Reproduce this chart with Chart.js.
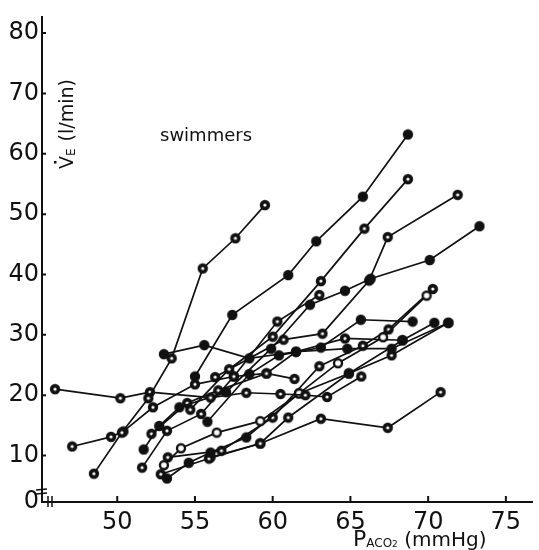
<!DOCTYPE html>
<html>
<head>
<meta charset="utf-8">
<script src="https://cdn.jsdelivr.net/npm/chart.js@4.4.1/dist/chart.umd.min.js"></script>
<style>
  html, body { margin: 0; padding: 0; background: #fff; }
  #wrap { position: absolute; left: 0; top: 0; width: 539px; height: 550px; }
</style>
</head>
<body>
<div id="wrap"><canvas id="vent"></canvas></div>
<script>
// Axis ticks (mmHg on x, l/min on y)
const xTicks = [50, 55, 60, 65, 70, 75];
const yTicks = [10, 20, 30, 40, 50, 60, 70, 80];
const xMin = 45.16, xMax = 76.7;
const yMin = 2.3, yMax = 82.6;

// One response line per swimmer: [PACO2, VE] pairs
const sw01 = [[48.5, 7], [50.3, 13.8], [52.0, 19.5], [53.5, 26.1], [55.5, 41], [57.6, 46], [59.5, 51.5]];
const sw02 = [[46, 21], [50.2, 19.5], [52.1, 20.5], [56, 19.6], [58.3, 20.4], [60.5, 20.2], [62.1, 20], [63.5, 19.7], [65.7, 23.1]];
const sw03 = [[55, 23.1], [57.4, 33.3], [61, 39.9], [62.8, 45.5], [65.8, 52.9], [68.7, 63.2]];
const sw04 = [[54.7, 17.6], [57.2, 24.3], [60, 29.7], [63.1, 38.9], [65.9, 47.6], [68.7, 55.8]];
const sw05 = [[47.1, 11.5], [49.6, 13.1], [50.4, 14], [52.3, 18], [55, 21.8], [57.5, 23.1], [59.6, 23.6], [61.4, 22.7]];
const sw06 = [[53, 26.8], [55.6, 28.3], [58.5, 26.1], [61.5, 27.2], [64.8, 27.7], [67.65, 27.7], [71.3, 32]];
const sw07 = [[51.6, 8], [53.2, 14.1], [55.4, 16.9], [57.5, 23.1], [60.3, 32.2], [63, 36.6]];
const sw08 = [[51.7, 11], [52.7, 14.9], [54, 18], [57, 20.5], [59.9, 27.7], [62.4, 35], [64.65, 37.3], [66.3, 39.3], [70.1, 42.4], [73.3, 48]];
const sw09 = [[56.3, 23], [60.7, 29.2], [63.2, 30.2], [66.2, 39], [67.4, 46.2], [71.9, 53.2]];
const sw10 = [[53, 8.4], [54.1, 11.2], [56.4, 13.8], [59.2, 15.7], [61.7, 20.3], [64.2, 25.3], [67.1, 29.6], [69.9, 36.5]];
const sw11 = [[53.2, 6.2], [54.6, 8.8], [56, 10.5], [58.3, 13], [61.7, 20.3], [64.9, 23.6], [68.35, 29.1], [70.4, 32]];
const sw12 = [[52.8, 6.9], [55.9, 9.5], [59.2, 12], [63.1, 16.1], [67.4, 14.6], [70.8, 20.5]];
const sw13 = [[53.25, 9.7], [56.7, 10.8], [60, 16.3], [63, 24.8], [65.8, 28.2], [67.45, 30.9], [70.3, 37.6]];
const sw14 = [[55.8, 15.6], [58.5, 23.5], [60.4, 26.6], [63.1, 27.9], [65.67, 32.5], [69, 32.2]];
const sw15 = [[52.2, 13.6], [54.5, 18.7], [56.5, 20.8], [59.6, 23.6], [61.5, 27.2], [64.65, 29.4], [68.35, 29.1]];
const sw16 = [[56, 9.7], [59.2, 12], [61, 16.3], [64.9, 23.6], [67.65, 26.6], [71.3, 32]];

const swimmers = [sw01, sw02, sw03, sw04, sw05, sw06, sw07, sw08, sw09, sw10, sw11, sw12, sw13, sw14, sw15, sw16];
// marker look per line: solid dot, dot with a pale centre, or open ring
const markerKind = ['dot', 'dot', 'solid', 'dot', 'dot', 'solid', 'dot', 'solid', 'dot', 'ring', 'solid', 'dot', 'dot', 'solid', 'dot', 'dot'];

const INK = '#111';
const FONT = '"DejaVu Sans", "Liberation Sans", sans-serif';

function makeMarker(kind) {
  const c = document.createElement('canvas');
  c.width = 12; c.height = 12;
  const g = c.getContext('2d');
  g.fillStyle = INK;
  g.beginPath(); g.arc(6, 6, 5.2, 0, Math.PI * 2); g.fill();
  if (kind !== 'solid') {
    g.fillStyle = '#fff';
    g.beginPath(); g.arc(6, 6, kind === 'ring' ? 2.8 : 1.6, 0, Math.PI * 2); g.fill();
  }
  return c;
}
const markers = { solid: makeMarker('solid'), dot: makeMarker('dot'), ring: makeMarker('ring') };

// inward tick marks, axis breaks and the free-floating labels
const decorations = {
  id: 'decorations',
  afterDraw(chart) {
    const { ctx, chartArea: a, scales: { x, y } } = chart;
    ctx.save();
    ctx.strokeStyle = INK;
    ctx.lineWidth = 2;
    ctx.beginPath();
    xTicks.forEach(v => {
      const px = x.getPixelForValue(v);
      ctx.moveTo(px, a.bottom);
      ctx.lineTo(px, a.bottom - 6);
    });
    yTicks.forEach(v => {
      const py = y.getPixelForValue(v);
      ctx.moveTo(a.left, py);
      ctx.lineTo(a.left + 4, py);
    });
    ctx.stroke();

    // axis breaks
    ctx.lineWidth = 1.5;
    ctx.beginPath();
    ctx.moveTo(a.left - 6, a.bottom - 12); ctx.lineTo(a.left + 5, a.bottom - 13);
    ctx.moveTo(a.left - 6, a.bottom - 8); ctx.lineTo(a.left + 5, a.bottom - 9);
    ctx.moveTo(a.left + 6, a.bottom - 6); ctx.lineTo(a.left + 6, a.bottom + 5);
    ctx.moveTo(a.left + 10, a.bottom - 6); ctx.lineTo(a.left + 10, a.bottom + 5);
    ctx.stroke();

    ctx.fillStyle = INK;
    ctx.textBaseline = 'alphabetic';

    // "swimmers"
    ctx.font = '18px ' + FONT;
    ctx.textAlign = 'left';
    ctx.fillText('swimmers', 160, 141);

    // y title, rotated, inside the plot
    ctx.save();
    ctx.translate(73, 169);
    ctx.rotate(-Math.PI / 2);
    ctx.font = '19px ' + FONT;
    ctx.fillText('V', 0, 0);
    const vw = ctx.measureText('V').width;
    ctx.fillRect(vw / 2 - 1, -19, 2.5, 2.5);
    ctx.font = '12px ' + FONT;
    ctx.fillText('E', vw, 2);
    const ew = ctx.measureText('E').width;
    ctx.font = '19px ' + FONT;
    ctx.fillText(' (l/min)', vw + ew + 1, 0);
    ctx.restore();

    // x title
    let cx = 353;
    const base = 546;
    ctx.font = '22px ' + FONT;
    ctx.fillText('P', cx, base);
    cx += ctx.measureText('P').width;
    ctx.font = '12px ' + FONT;
    ctx.fillText('ACO', cx, base + 1);
    cx += ctx.measureText('ACO').width;
    ctx.font = '9px ' + FONT;
    ctx.fillText('2', cx, base + 1);
    cx += ctx.measureText('2').width;
    ctx.font = '20px ' + FONT;
    ctx.fillText(' (mmHg)', cx, base);
    ctx.restore();
  }
};

const ctx = document.getElementById('vent').getContext('2d');
new Chart(ctx, {
  type: 'line',
  data: {
    datasets: swimmers.map((pts, i) => ({
      label: 'swimmer ' + (i + 1),
      data: pts.map(p => ({ x: p[0], y: p[1] })),
      borderColor: INK,
      borderWidth: 1.7,
      pointStyle: markers[markerKind[i]],
      pointRadius: 5,
      tension: 0,
      fill: false
    }))
  },
  options: {
    responsive: true,
    maintainAspectRatio: false,
    animation: false,
    layout: { padding: { top: 12, right: 2, left: 0, bottom: 0 } },
    plugins: {
      legend: { display: false },
      tooltip: { enabled: false }
    },
    scales: {
      x: {
        type: 'linear',
        min: xMin,
        max: xMax,
        afterBuildTicks: scale => { scale.ticks = xTicks.map(v => ({ value: v })); },
        afterFit: scale => { scale.height = 48; },
        grid: { display: true, drawOnChartArea: false, drawTicks: false },
        border: { display: true, color: INK, width: 2 },
        ticks: {
          color: INK,
          padding: 6,
          maxRotation: 0,
          font: { family: FONT, size: 24 }
        }
      },
      y: {
        type: 'linear',
        min: yMin,
        max: yMax,
        afterBuildTicks: scale => { scale.ticks = [yMin, ...yTicks].map(v => ({ value: v })); },
        afterFit: scale => { scale.width = 42; },
        grid: { display: true, drawOnChartArea: false, drawTicks: false },
        border: { display: true, color: INK, width: 2 },
        ticks: {
          color: INK,
          padding: 3,
          font: { family: FONT, size: 24 },
          callback: v => (v === yMin ? '0' : v)
        }
      }
    }
  },
  plugins: [decorations]
});
</script>
</body>
</html>
